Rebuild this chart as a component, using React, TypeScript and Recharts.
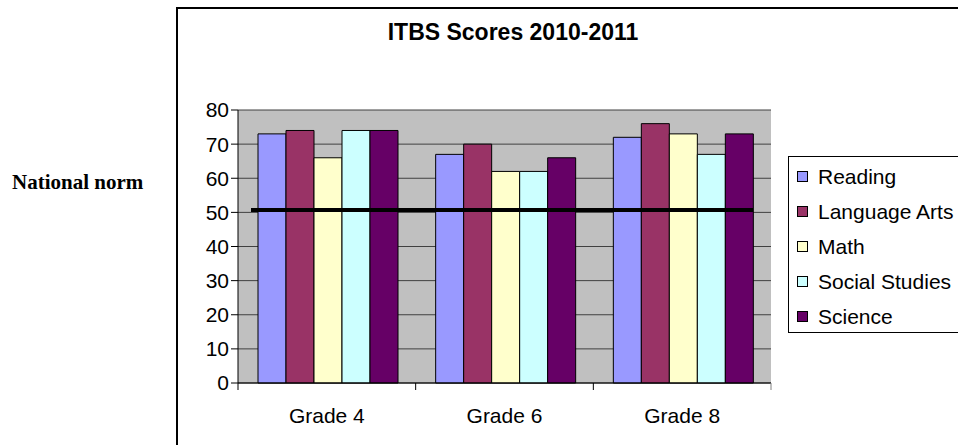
import { BarChart, Bar, XAxis, YAxis, CartesianGrid, ReferenceLine } from 'recharts';

const grades = ['Grade 4', 'Grade 6', 'Grade 8'];
const reading = [73, 67, 72];
const languageArts = [74, 70, 76];
const math = [66, 62, 73];
const socialStudies = [74, 62, 67];
const science = [74, 66, 73];
const yTicks = [0, 10, 20, 30, 40, 50, 60, 70, 80];
const nationalNorm = 50.7;

const series = [
  { key: 'reading', name: 'Reading', color: '#9999FF' },
  { key: 'languageArts', name: 'Language Arts', color: '#993366' },
  { key: 'math', name: 'Math', color: '#FFFFCC' },
  { key: 'socialStudies', name: 'Social Studies', color: '#CCFFFF' },
  { key: 'science', name: 'Science', color: '#660066' },
];

const data = grades.map((grade, i) => ({
  grade,
  reading: reading[i],
  languageArts: languageArts[i],
  math: math[i],
  socialStudies: socialStudies[i],
  science: science[i],
}));

const FONT = 'Arial, "Liberation Sans", sans-serif';

// Excel puts the x tick marks between the categories, not under them
function GradeTick(props: any) {
  const { x, y, payload, index } = props;
  const half = payload.offset ?? 0;
  return (
    <g>
      <line x1={x - half} y1={y - 8} x2={x - half} y2={y - 1} stroke="#000" />
      {index === grades.length - 1 && (
        <line x1={x + half} y1={y - 8} x2={x + half} y2={y - 1} stroke="#808080" />
      )}
      <text x={x} y={y + 32} textAnchor="middle" fontFamily={FONT} fontSize={21} fill="#000">
        {payload.value}
      </text>
    </g>
  );
}

function NormLine(props: any) {
  const { x1, y1, x2, y2 } = props;
  return <line x1={x1 + 13} y1={y1} x2={x2 - 18} y2={y2} stroke="#000" strokeWidth={4} />;
}

function LegendBox() {
  return (
    <div
      style={{
        position: 'absolute',
        left: 788,
        top: 156,
        border: '1px solid #000',
        width: 180,
        height: 177,
        boxSizing: 'border-box',
        background: '#fff',
        paddingTop: 2,
        paddingLeft: 8,
      }}
    >
      {series.map((s) => (
        <div
          key={s.key}
          style={{ display: 'flex', alignItems: 'center', height: 35, fontFamily: FONT, fontSize: 21, color: '#000' }}
        >
          <span
            style={{
              display: 'inline-block',
              width: 9,
              height: 9,
              background: s.color,
              border: '1px solid #000',
              marginRight: 10,
            }}
          />
          {s.name}
        </div>
      ))}
    </div>
  );
}

export default function App() {
  return (
    <div style={{ position: 'absolute', left: 0, top: 0, width: 958, height: 445, overflow: 'hidden', background: '#fff' }}>
      <div
        style={{
          position: 'absolute',
          left: 176,
          top: 7,
          width: 800,
          height: 460,
          borderLeft: '2px solid #000',
          borderTop: '2px solid #000',
        }}
      />
      <div
        style={{
          position: 'absolute',
          left: 0,
          width: 1026,
          top: 19,
          textAlign: 'center',
          fontFamily: FONT,
          fontWeight: 'bold',
          fontSize: 23,
        }}
      >
        ITBS Scores 2010-2011
      </div>
      <div
        style={{
          position: 'absolute',
          left: 12,
          top: 170,
          fontFamily: '"Times New Roman", "Liberation Serif", serif',
          fontWeight: 'bold',
          fontSize: 21,
        }}
      >
        National norm
      </div>
      <div style={{ position: 'absolute', left: 0, top: 0 }}>
        <BarChart
          width={958}
          height={445}
          data={data}
          margin={{ top: 110, right: 187, bottom: 32, left: 198 }}
          barCategoryGap={20}
          barGap={0}
        >
          <CartesianGrid vertical={false} fill="#C0C0C0" stroke="#404040" fillOpacity={1} />
          <XAxis
            dataKey="grade"
            height={30}
            tick={<GradeTick />}
            tickLine={false}
            axisLine={{ stroke: '#000' }}
            interval={0}
          />
          <YAxis
            domain={[0, 80]}
            ticks={yTicks}
            width={40}
            interval={0}
            axisLine={{ stroke: '#000' }}
            tickLine={{ stroke: '#000' }}
            tickSize={7}
            tick={{ fontFamily: FONT, fontSize: 21, fill: '#000' }}
          />
          <YAxis yAxisId="edge" orientation="right" width={0} tick={false} tickLine={false} axisLine={{ stroke: '#808080' }} />
          {series.map((s) => (
            <Bar
              key={s.key}
              dataKey={s.key}
              name={s.name}
              fill={s.color}
              stroke="#000"
              strokeWidth={1}
              isAnimationActive={false}
            />
          ))}
          <ReferenceLine y={nationalNorm} shape={<NormLine />} />
        </BarChart>
      </div>
      <LegendBox />
    </div>
  );
}
